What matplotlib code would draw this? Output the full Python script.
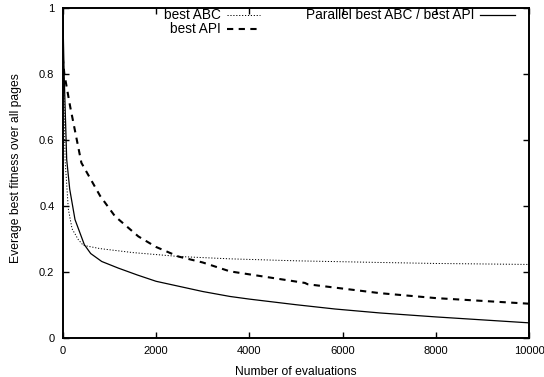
import numpy as np
import matplotlib
matplotlib.use('Agg')
import matplotlib.pyplot as plt

plt.rcParams['font.family'] = ['Liberation Sans', 'DejaVu Sans']

# average best fitness per number of evaluations
abc_x = [0, 20, 50, 120, 200, 335, 440, 800, 1500, 2500, 3585, 5000, 6800, 8000, 10000]
abc_y = [1.0, 0.8, 0.54, 0.39, 0.33, 0.297, 0.28, 0.27, 0.258, 0.246, 0.239, 0.233, 0.228, 0.225, 0.222]

api_x = [0, 34, 160, 400, 800, 1120, 1620, 2000, 2480, 3000, 3585, 4000, 5190, 5250, 6800, 8000, 10000]
api_y = [0.85, 0.8, 0.70, 0.53, 0.43, 0.368, 0.307, 0.275, 0.246, 0.228, 0.201, 0.192, 0.166, 0.162, 0.135, 0.12, 0.103]

par_x = [0, 30, 85, 150, 263, 463, 600, 836, 1190, 1600, 2000, 3000, 3585, 4000, 5000, 5835, 6800, 8000, 9000, 10000]
par_y = [1.0, 0.8, 0.54, 0.45, 0.358, 0.282, 0.255, 0.231, 0.211, 0.19, 0.171, 0.14, 0.125, 0.117, 0.10, 0.087, 0.075, 0.063, 0.054, 0.045]

xticks = [0, 2000, 4000, 6000, 8000, 10000]
yticks = [0, 0.2, 0.4, 0.6, 0.8, 1]
ytick_labels = ['0', '0.2', '0.4', '0.6', '0.8', '1']

fig = plt.figure(figsize=(5.44, 3.77), dpi=100)
ax = fig.add_axes([0.1153, 0.1042, 0.973 - 0.1153, 0.9796 - 0.1042])

ax.plot(abc_x, abc_y, color='black', lw=0.7, linestyle=(0, (1.2, 1.8)))
ax.plot(api_x, api_y, color='black', lw=1.5, linestyle=(0, (3.0, 2.6)))
ax.plot(par_x, par_y, color='black', lw=0.9, linestyle='-')

ax.set_xlim(0, 10000)
ax.set_ylim(0, 1)
ax.set_xticks(xticks)
ax.set_xticklabels([str(t) for t in xticks])
ax.set_yticks(yticks)
ax.set_yticklabels(ytick_labels)
ax.tick_params(direction='in', length=4, width=1, top=True, right=True,
               labelsize=8, pad=6, colors='black')
for s in ax.spines.values():
    s.set_linewidth(1.4)

ax.set_xlabel('Number of evaluations', fontsize=8.7, labelpad=7)
ax.set_ylabel('Everage best fitness over all pages', fontsize=8.7, labelpad=6)
ax.yaxis.set_label_coords(-0.088, 0.515)

# gnuplot-like key: right aligned text followed by line sample
def key(tx, ty, x0, x1, label, **kw):
    fig.text(tx / 544, 1 - ty / 377, label, ha='right', va='center', fontsize=9.8)
    fig.add_artist(plt.Line2D([x0 / 544, x1 / 544], [1 - ty / 377, 1 - ty / 377],
                              color='black', transform=fig.transFigure, **kw))

key(221, 15, 227, 260, 'best ABC', lw=0.7, linestyle=(0, (1.2, 1.8)))
key(221, 29, 227, 260, 'best API', lw=1.5, linestyle=(0, (3.0, 2.6)))
key(474, 15, 480, 515, 'Parallel best ABC / best API', lw=0.9)

fig.savefig('out.png', dpi=100)
